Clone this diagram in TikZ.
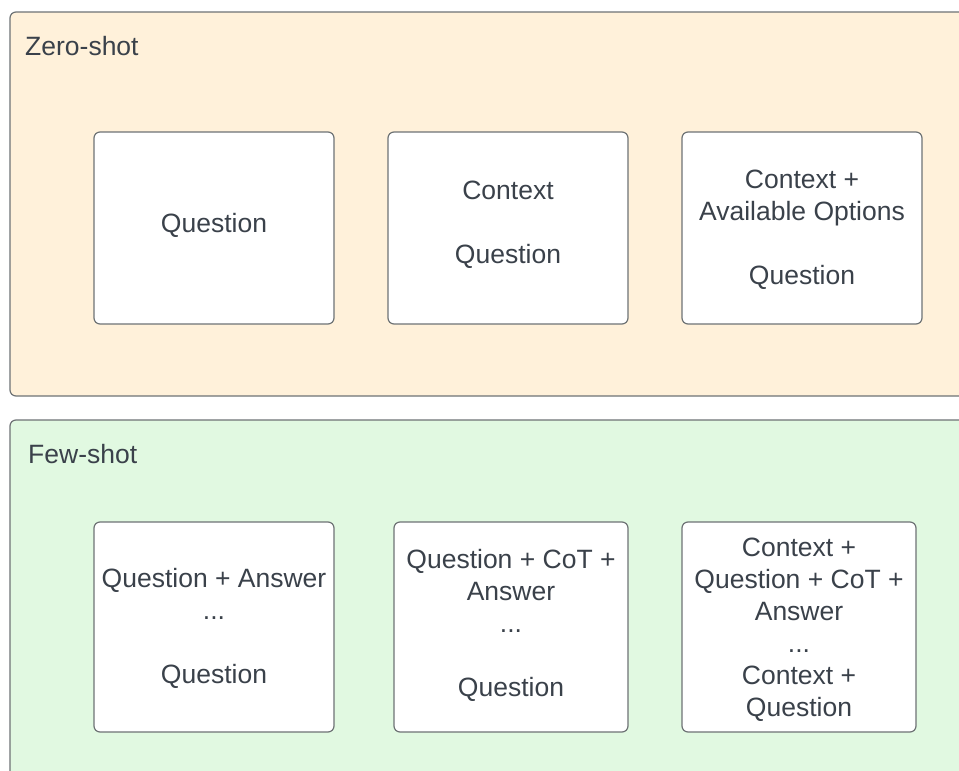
\documentclass[tikz,border=0pt]{standalone}
\usepackage{fontspec}
\setmainfont{Liberation Sans}
\definecolor{inktext}{HTML}{3A414A}
\definecolor{edgegray}{HTML}{6E7375}
\definecolor{zerofill}{HTML}{FFF1DA}
\definecolor{fewfill}{HTML}{E1F9E1}
\tikzset{
  panel/.style={draw=edgegray, line width=1.2pt, rounded corners=6pt},
  promptbox/.style={draw=edgegray, fill=white, line width=1.2pt, rounded corners=6pt,
    inner sep=0pt},
  prompttext/.style={align=center, text=inktext, inner sep=0pt,
    font=\fontsize{26.5}{32}\selectfont},
  paneltitle/.style={anchor=base west, text=inktext, inner sep=0pt,
    font=\fontsize{26.5}{32}\selectfont},
}
\begin{document}
\begin{tikzpicture}[x=1pt, y=-1pt]
  \useasboundingbox (0,0) rectangle (959,771);
  \clip (0,0) rectangle (959,771);
  \fill[white] (0,0) rectangle (959,771);

  % panels running off the right and bottom edges
  \draw[panel, fill=zerofill] (10,12) rectangle (980,396);
  \draw[panel, fill=fewfill] (10,420) rectangle (980,800);

  \node[paneltitle] (zerotitle) at (25,55) {Zero-shot};
  \node[paneltitle] (fewtitle) at (28,463) {Few-shot};

  % zero-shot prompt formats
  \node[promptbox, minimum width=240pt, minimum height=192pt] (z1) at (214,228) {};
  \node[prompttext] (z1text) at ([yshift=3pt]z1.center) {Question};
  \node[promptbox, minimum width=240pt, minimum height=192pt] (z2) at (508,228) {};
  \node[prompttext] (z2text) at ([yshift=3pt]z2.center) {Context\\[32pt]Question};
  \node[promptbox, minimum width=240pt, minimum height=192pt] (z3) at (802,228) {};
  \node[prompttext] (z3text) at ([yshift=-2pt]z3.center)
    {Context +\\Available Options\\[32pt]Question};

  % few-shot prompt formats
  \node[promptbox, minimum width=240pt, minimum height=210pt] (f1) at (214,627) {};
  \node[prompttext] (f1text) at ([yshift=-1pt]f1.center)
    {Question + Answer\\...\\[32pt]Question};
  \node[promptbox, minimum width=234pt, minimum height=210pt] (f2) at (511,627) {};
  \node[prompttext] (f2text) at ([yshift=2pt]f2.center)
    {Question + CoT +\\Answer\\...\\[32pt]Question};
  \node[promptbox, minimum width=234pt, minimum height=210pt] (f3) at (799,627) {};
  \node[prompttext] (f3text) at ([yshift=-3pt]f3.center)
    {Context +\\Question + CoT +\\Answer\\...\\Context +\\Question};
\end{tikzpicture}
\end{document}
